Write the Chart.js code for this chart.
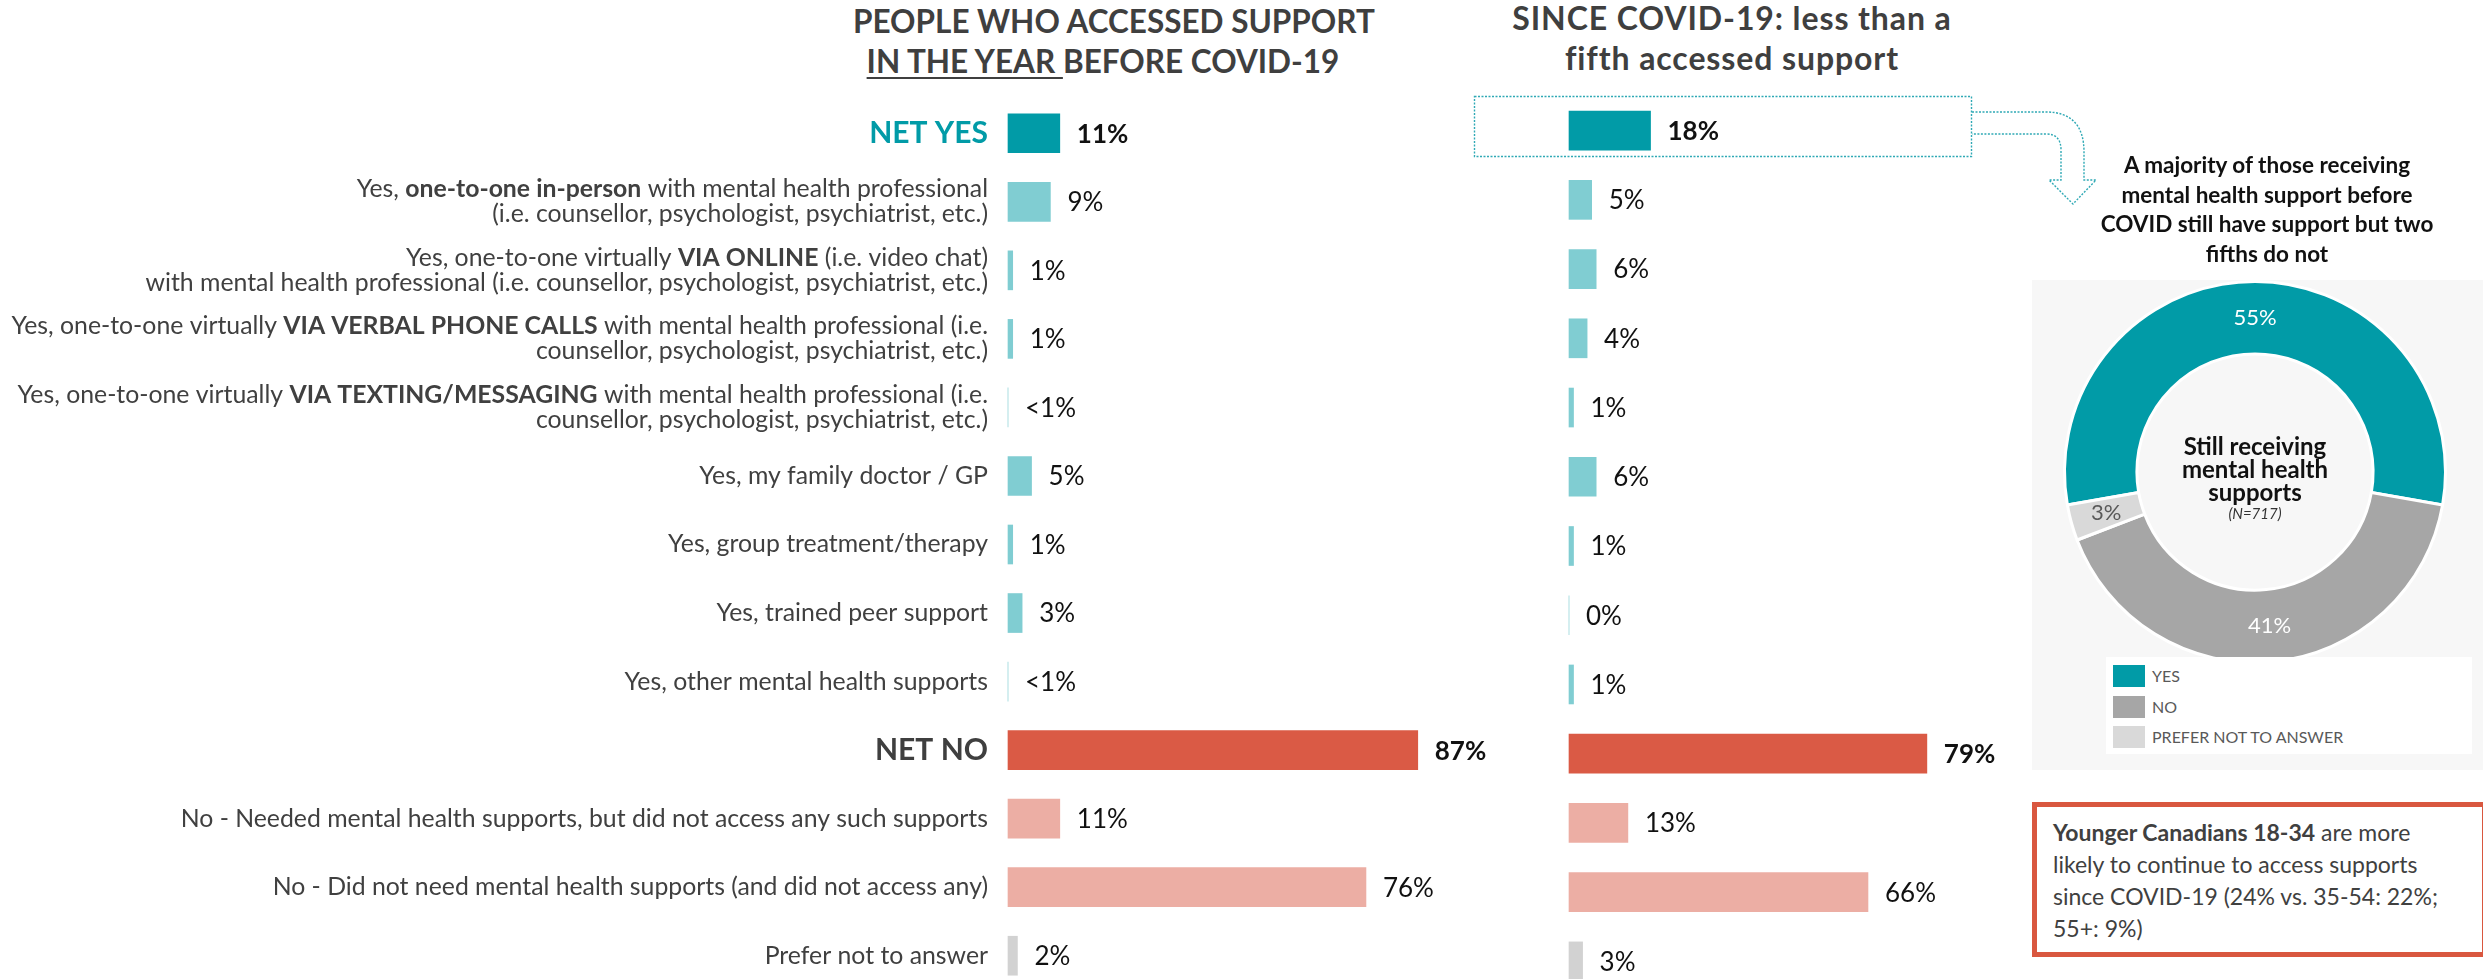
<!DOCTYPE html>
<html lang="en">
<head>
  <meta charset="UTF-8" />
  <title>Mental health supports before and since COVID-19</title>
  <script src="https://cdn.jsdelivr.net/npm/chart.js@4.4.0/dist/chart.umd.min.js"></script>
  <style>
    html, body {
      margin: 0;
      padding: 0;
      background: #fff;
      overflow: hidden;
    }
    body {
      font-family: Lato, "Open Sans", sans-serif;
      color: #404040;
    }
    #page {
      position: relative;
      width: 2483px;
      height: 979px;
      overflow: hidden;
    }
    canvas, svg {
      position: absolute;
    }
    .title {
      position: absolute;
      font-weight: 700;
      font-size: 31.5px;
      line-height: 40px;
      text-align: center;
      color: #3f3f3f;
      white-space: nowrap;
    }
    .title u {
      text-decoration-thickness: 2px;
      text-underline-offset: 4px;
    }
    .title.right {
      font-size: 32px;
      letter-spacing: 0.9px;
    }
    .panel {
      position: absolute;
      left: 2032px;
      top: 280px;
      width: 451px;
      height: 490px;
      background: #f7f7f7;
    }
    .pie-title {
      position: absolute;
      left: 2087px;
      top: 150px;
      width: 360px;
      text-align: center;
      font-weight: 700;
      font-size: 22.5px;
      line-height: 29.7px;
      color: #111;
    }
    .pie-centre {
      position: absolute;
      left: 2145px;
      top: 434px;
      width: 220px;
      text-align: center;
      font-weight: 700;
      font-size: 24px;
      line-height: 23px;
      color: #111;
    }
    .pie-centre small {
      display: block;
      font-weight: 400;
      font-style: italic;
      font-size: 15px;
      line-height: 20px;
      color: #333;
    }
    .legend-box {
      position: absolute;
      left: 2106px;
      top: 657px;
      width: 366px;
      height: 97px;
      background: #fff;
    }
    .legend-item {
      position: absolute;
      left: 2113px;
      height: 22px;
      font-size: 16px;
      line-height: 22px;
      color: #595959;
      white-space: nowrap;
    }
    .legend-item span {
      display: inline-block;
      width: 32px;
      height: 22px;
      vertical-align: top;
      margin-right: 7px;
    }
    .note {
      position: absolute;
      left: 2032px;
      top: 802px;
      width: 445px;
      height: 145px;
      border: 5px solid #d9573f;
      background: #fff;
      box-sizing: content-box;
      padding: 0;
    }
    .note p {
      margin: 9px 0 0 16px;
      font-size: 23px;
      line-height: 32px;
      color: #404040;
      white-space: nowrap;
    }
  </style>
</head>
<body>
  <div id="page">
    <div class="title" style="left:853px; top:1px; width:500px;">PEOPLE WHO ACCESSED SUPPORT<br><u>IN THE YEAR </u>BEFORE COVID-19</div>
    <div class="title right" style="left:1482px; top:-2px; width:500px;">SINCE COVID-19: less than a<br>fifth accessed support</div>

    <canvas id="beforeChart" width="1500" height="1000" style="left:0; top:0;"></canvas>
    <canvas id="sinceChart" width="560" height="1000" style="left:1500px; top:0;"></canvas>

    <svg width="2483" height="979" style="left:0; top:0;">
      <rect x="1474.5" y="96.5" width="497" height="60" fill="none" stroke="#2fa9b5" stroke-width="1.4" stroke-dasharray="2 1.5" />
      <path d="M1972,112 L2046,112 Q2084,112 2084,152 L2084,180 L2096,180 L2073,204 L2049,180 L2061,180 L2061,150 Q2061,134 2046,134 L1972,134"
        fill="none" stroke="#2fa9b5" stroke-width="1.4" stroke-dasharray="2 1.5" />
    </svg>

    <div class="pie-title">A majority of those receiving<br>mental health support before<br>COVID still have support but two<br>fifths do not</div>
    <div class="panel"></div>
    <canvas id="pieChart" width="400" height="400" style="left:2055px; top:272px;"></canvas>
    <div class="pie-centre">Still receiving<br>mental health<br>supports<small>(N=717)</small></div>
    <div class="legend-box"></div>
    <div id="legend"></div>

    <div class="note">
      <p><b>Younger Canadians 18-34</b> are more<br>likely to continue to access supports<br>since COVID-19 (24% vs. 35-54: 22%;<br>55+: 9%)</p>
    </div>
  </div>

  <script>
    // answer rows, ** marks the bold part of a line
    const categories = [
      ["NET YES"],
      ["Yes, **one-to-one in-person** with mental health professional", "(i.e. counsellor, psychologist, psychiatrist, etc.)"],
      ["Yes, one-to-one virtually **VIA ONLINE** (i.e. video chat)", "with mental health professional (i.e. counsellor, psychologist, psychiatrist, etc.)"],
      ["Yes, one-to-one virtually **VIA VERBAL PHONE CALLS** with mental health professional (i.e.", "counsellor, psychologist, psychiatrist, etc.)"],
      ["Yes, one-to-one virtually **VIA TEXTING/MESSAGING** with mental health professional (i.e.", "counsellor, psychologist, psychiatrist, etc.)"],
      ["Yes, my family doctor / GP"],
      ["Yes, group treatment/therapy"],
      ["Yes, trained peer support"],
      ["Yes, other mental health supports"],
      ["NET NO"],
      ["No - Needed mental health supports, but did not access any such supports"],
      ["No - Did not need mental health supports (and did not access any)"],
      ["Prefer not to answer"]
    ];
    const rowGroups = ["netYes", "yes", "yes", "yes", "yes", "yes", "yes", "yes", "yes", "netNo", "no", "no", "pna"];

    const beforeValues = [11, 9, 1, 1, 0, 5, 1, 3, 0, 87, 11, 76, 2];
    const beforeTexts = ["11%", "9%", "1%", "1%", "<1%", "5%", "1%", "3%", "<1%", "87%", "11%", "76%", "2%"];

    const sinceValues = [18, 5, 6, 4, 1, 6, 1, 0, 1, 79, 13, 66, 3];
    const sinceTexts = ["18%", "5%", "6%", "4%", "1%", "6%", "1%", "0%", "1%", "79%", "13%", "66%", "3%"];

    const pieLabels = ["YES", "NO", "PREFER NOT TO ANSWER"];
    const pieValues = [55, 41, 3];
    const pieTexts = ["55%", "41%", "3%"];

    const groupColours = {
      netYes: "#019ba7",
      yes: "#80cdd2",
      netNo: "#da5a45",
      no: "#ecaea4",
      pna: "#d2d2d2"
    };
    const pieColours = ["#019ba7", "#a6a6a6", "#d9d9d9"];
    const pieTextColours = ["#ffffff", "#ffffff", "#595959"];
    const FONT = "Lato, 'Open Sans', sans-serif";

    // percentage text at the end of every bar
    const valueText = {
      id: "valueText",
      afterDatasetsDraw(chart, args, opts) {
        const ctx = chart.ctx;
        const bars = chart.getDatasetMeta(0).data;
        ctx.save();
        ctx.textBaseline = "middle";
        ctx.textAlign = "left";
        ctx.fillStyle = "#111";
        bars.forEach((bar, i) => {
          const net = rowGroups[i].startsWith("net");
          ctx.font = (net ? "700 " : "400 ") + "26px " + FONT;
          ctx.fillText(opts.texts[i], bar.x + 17, bar.y + 1);
        });
        ctx.restore();
      }
    };

    // row labels with bold parts, right aligned against the bars
    const rowText = {
      id: "rowText",
      afterDraw(chart, args, opts) {
        if (!opts.show) return;
        const ctx = chart.ctx;
        const yScale = chart.scales.y;
        const right = chart.chartArea.left - 20;
        ctx.save();
        ctx.textBaseline = "middle";
        ctx.textAlign = "left";
        categories.forEach((lines, i) => {
          const yc = yScale.getPixelForValue(i);
          const group = rowGroups[i];
          if (group === "netYes" || group === "netNo") {
            ctx.font = "700 30px " + FONT;
            ctx.fillStyle = group === "netYes" ? "#019ba7" : "#3f3f3f";
            const w = ctx.measureText(lines[0]).width;
            ctx.fillText(lines[0], right - w, yc);
            return;
          }
          ctx.fillStyle = "#404040";
          const lh = 25;
          lines.forEach((line, j) => {
            const y = yc + (j - (lines.length - 1) / 2) * lh;
            const parts = line.split("**").map((t, k) => ({ t, bold: k % 2 === 1 }));
            let total = 0;
            parts.forEach(p => {
              ctx.font = (p.bold ? "700 " : "400 ") + "24.8px " + FONT;
              p.w = ctx.measureText(p.t).width;
              total += p.w;
            });
            let x = right - total;
            parts.forEach(p => {
              ctx.font = (p.bold ? "700 " : "400 ") + "24.8px " + FONT;
              ctx.fillText(p.t, x, y);
              x += p.w;
            });
          });
        });
        ctx.restore();
      }
    };

    // percentages sitting in the middle of each ring segment
    const arcText = {
      id: "arcText",
      afterDatasetsDraw(chart) {
        const ctx = chart.ctx;
        const arcs = chart.getDatasetMeta(0).data;
        ctx.save();
        ctx.textAlign = "center";
        ctx.textBaseline = "middle";
        ctx.font = "400 22px " + FONT;
        arcs.forEach((arc, i) => {
          const pos = arc.tooltipPosition();
          ctx.fillStyle = pieTextColours[i];
          ctx.fillText(pieTexts[i], pos.x, pos.y);
        });
        ctx.restore();
      }
    };

    function makeBarChart(id, values, texts, padding, showRows) {
      return new Chart(document.getElementById(id), {
        type: "bar",
        data: {
          labels: categories,
          datasets: [{
            data: values,
            backgroundColor: rowGroups.map(g => groupColours[g]),
            borderWidth: 0,
            barThickness: 39,
            clip: false
          }]
        },
        options: {
          indexAxis: "y",
          responsive: false,
          animation: false,
          devicePixelRatio: 1,
          layout: { padding: padding },
          scales: {
            x: { display: false, min: 0, max: 100 },
            y: { display: false }
          },
          plugins: {
            legend: { display: false },
            tooltip: { enabled: false },
            valueText: { texts: texts },
            rowText: { show: showRows }
          }
        },
        plugins: [valueText, rowText]
      });
    }

    makeBarChart("beforeChart", beforeValues, beforeTexts, { left: 1008, right: 21, top: 99, bottom: 10 }, true);
    makeBarChart("sinceChart", sinceValues, sinceTexts, { left: 69, right: 38, top: 96, bottom: 4 }, false);

    new Chart(document.getElementById("pieChart"), {
      type: "doughnut",
      data: {
        labels: pieLabels,
        datasets: [{
          data: pieValues,
          backgroundColor: pieColours,
          borderColor: "#ffffff",
          borderWidth: 3
        }]
      },
      options: {
        responsive: false,
        animation: false,
        devicePixelRatio: 1,
        rotation: -100,
        cutout: "62%",
        layout: { padding: 8 },
        plugins: {
          legend: { display: false },
          tooltip: { enabled: false }
        }
      },
      plugins: [arcText]
    });

    // legend for the ring, one row per answer
    const legend = document.getElementById("legend");
    pieLabels.forEach((name, i) => {
      const item = document.createElement("div");
      item.className = "legend-item";
      item.style.top = (665 + i * 30.5) + "px";
      item.innerHTML = `<span style="background:${pieColours[i]}"></span>${name}`;
      legend.appendChild(item);
    });
  </script>
</body>
</html>
